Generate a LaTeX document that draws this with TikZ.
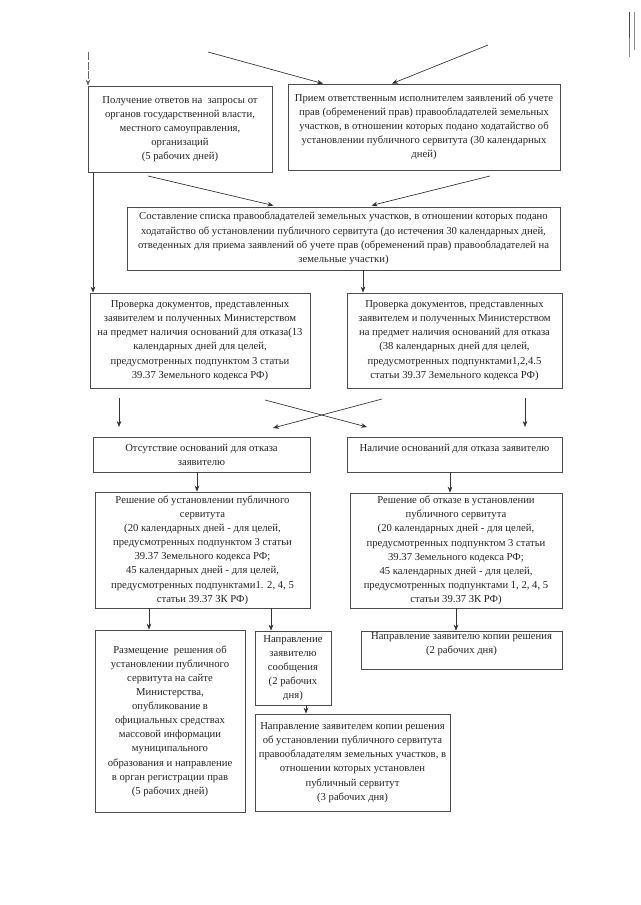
\documentclass[tikz,border=0pt]{standalone}
\usepackage{fontspec}
\setmainfont{Liberation Serif}
\usetikzlibrary{arrows.meta}
\begin{document}
\begin{tikzpicture}[x=0.75pt,y=-0.75pt,
  box/.style={draw=black!70, line width=0.6pt, align=center, inner sep=1pt,
    font=\fontsize{8}{10.6}\selectfont, text=black!85},
  arr/.style={draw=black!80, line width=0.5pt, -{Stealth[length=4.5pt,width=3.5pt]}},
  ln/.style={draw=black!80, line width=0.5pt},
  speck/.style={draw=black!45, line width=0.6pt}]
\useasboundingbox[fill=white] (0,0) rectangle (640,905);

% boxes
\node[box, minimum width=138pt, minimum height=64.5pt] (b1) at (180,129)
 {Получение ответов на \ запросы от\\органов государственной власти,\\местного самоуправления,\\организаций\\(5 рабочих дней)};
\node[box, minimum width=204pt, minimum height=64.5pt] (b2) at (424,127)
 {Прием ответственным исполнителем заявлений об учете\\прав (обременений прав) правообладателей земельных\\участков, в отношении которых подано ходатайство об\\установлении публичного сервитута (30 календарных\\дней)};
\node[box, minimum width=324.75pt, minimum height=47.25pt] (b3) at (343.5,238.5)
 {Составление списка правообладателей земельных участков, в отношении которых подано\\ходатайство об установлении публичного сервитута (до истечения 30 календарных дней,\\отведенных для приема заявлений об учете прав (обременений прав) правообладателей на\\земельные участки)};
\node[box, minimum width=165pt, minimum height=71.25pt] (b4) at (200,340.5)
 {Проверка документов, представленных\\заявителем и полученных Министерством\\на предмет наличия оснований для отказа(13\\календарных дней для целей,\\предусмотренных подпунктом 3 статьи\\39.37 Земельного кодекса РФ)};
\node[box, minimum width=161.25pt, minimum height=71.25pt] (b5) at (454.5,340.5)
 {Проверка документов, представленных\\заявителем и полученных Министерством\\на предмет наличия оснований для отказа\\(38 календарных дней для целей,\\предусмотренных подпунктами1,2,4.5\\статьи 39.37 Земельного кодекса РФ)};
\node[box, minimum width=162.75pt, minimum height=26.25pt] (b6) at (201.5,454.5)
 {Отсутствие оснований для отказа\\заявителю};
\node[box, minimum width=161.25pt, minimum height=26.25pt] (b7) at (454.5,454.5)
 {Наличие оснований для отказа заявителю\\\mbox{}};
\node[box, minimum width=161.25pt, minimum height=87pt] (b8) at (202.5,550)
 {Решение об установлении публичного\\сервитута\\(20 календарных дней - для целей,\\предусмотренных подпунктом 3 статьи\\39.37 Земельного кодекса РФ;\\45 календарных дней - для целей,\\предусмотренных подпунктами1. 2, 4, 5\\статьи 39.37 ЗК РФ)};
\node[box, minimum width=159pt, minimum height=86.25pt] (b9) at (456,550.5)
 {Решение об отказе в установлении\\публичного сервитута\\(20 календарных дней - для целей,\\предусмотренных подпунктом 3 статьи\\39.37 Земельного кодекса РФ;\\45 календарных дней - для целей,\\предусмотренных подпунктами 1, 2, 4, 5\\статьи 39.37 ЗК РФ)};
\node[box, minimum width=112.5pt, minimum height=136.5pt] (b10) at (170,721)
 {Размещение \ решения об\\установлении публичного\\сервитута на сайте\\Министерства,\\опубликование в\\официальных средствах\\массовой информации\\муниципального\\образования и направление\\в орган регистрации прав\\(5 рабочих дней)};
\node[box, minimum width=57pt, minimum height=55.5pt] (b11) at (293,668)
 {Направление\\заявителю\\сообщения\\(2 рабочих\\дня)};
\node[box, minimum width=150.75pt, minimum height=28.5pt] (b12) at (461.5,650)
 {Направление заявителю копии решения\\(2 рабочих дня)\\\mbox{}};
\node[box, minimum width=146.25pt, minimum height=72.75pt] (b13) at (352.5,762.5)
 {Направление заявителем копии решения\\об установлении публичного сервитута\\правообладателям земельных участков, в\\отношении которых установлен\\публичный сервитут\\(3 рабочих дня)};

% free ends and guide coordinates
\coordinate (t1) at (208,52);
\coordinate (t1e) at (323,0);
\coordinate (t2) at (488,45);
\coordinate (t2e) at (392,0);
\coordinate (t0) at (88,52);
\coordinate (xl) at (93,0);
\coordinate (s1) at (148,176);
\coordinate (s1e) at (278,0);
\coordinate (s2) at (490,176);
\coordinate (s2e) at (367,0);
\coordinate (x3) at (363,0);
\coordinate (r1) at (119,398);
\coordinate (r1e) at (119,427);
\coordinate (r2) at (265,400);
\coordinate (r2e) at (367,427);
\coordinate (r3) at (382,399);
\coordinate (r3e) at (273,428);
\coordinate (r4) at (525,398);
\coordinate (r4e) at (525,427);
\coordinate (x6) at (197,0);
\coordinate (x7) at (450,0);
\coordinate (x8a) at (149,0);
\coordinate (x8b) at (271,0);
\coordinate (x9) at (456,0);
\coordinate (x11) at (306,0);

% connectors
\draw[arr] (t1) -- (b2.north -| t1e);
\draw[arr] (t2) -- (b2.north -| t2e);
\draw[arr, draw=black!60, dash pattern=on 6pt off 1.2pt] (t0) -- (b1.north -| t0);
\draw[arr] (b1.south -| xl) -- (b4.north -| xl);
\draw[arr, shorten >=3.5pt] (s1) -- (b3.north -| s1e);
\draw[arr, shorten >=3.5pt] (s2) -- (b3.north -| s2e);
\draw[arr] (b3.south -| x3) -- (b5.north -| x3);
\draw[arr] (r1) -- (r1e);
\draw[arr] (r2) -- (r2e);
\draw[arr] (r3) -- (r3e);
\draw[arr] (r4) -- (r4e);
\draw[arr] (b6.south -| x6) -- (b8.north -| x6);
\draw[arr] (b7.south -| x7) -- (b9.north -| x7);
\draw[arr] (b8.south -| x8a) -- (b10.north -| x8a);
\draw[arr] (b8.south -| x8b) -- (b11.north -| x8b);
\draw[arr] (b9.south -| x9) -- (b12.north -| x9);
\draw[arr] (b11.south -| x11) -- (b13.north -| x11);

% scan marks at the page edge
\draw[speck, draw=black!70] (629,12) -- (629,38);
\draw[speck] (629,38) -- (629,57);
\draw[speck] (634,12) -- (634,50);
\end{tikzpicture}
\end{document}
